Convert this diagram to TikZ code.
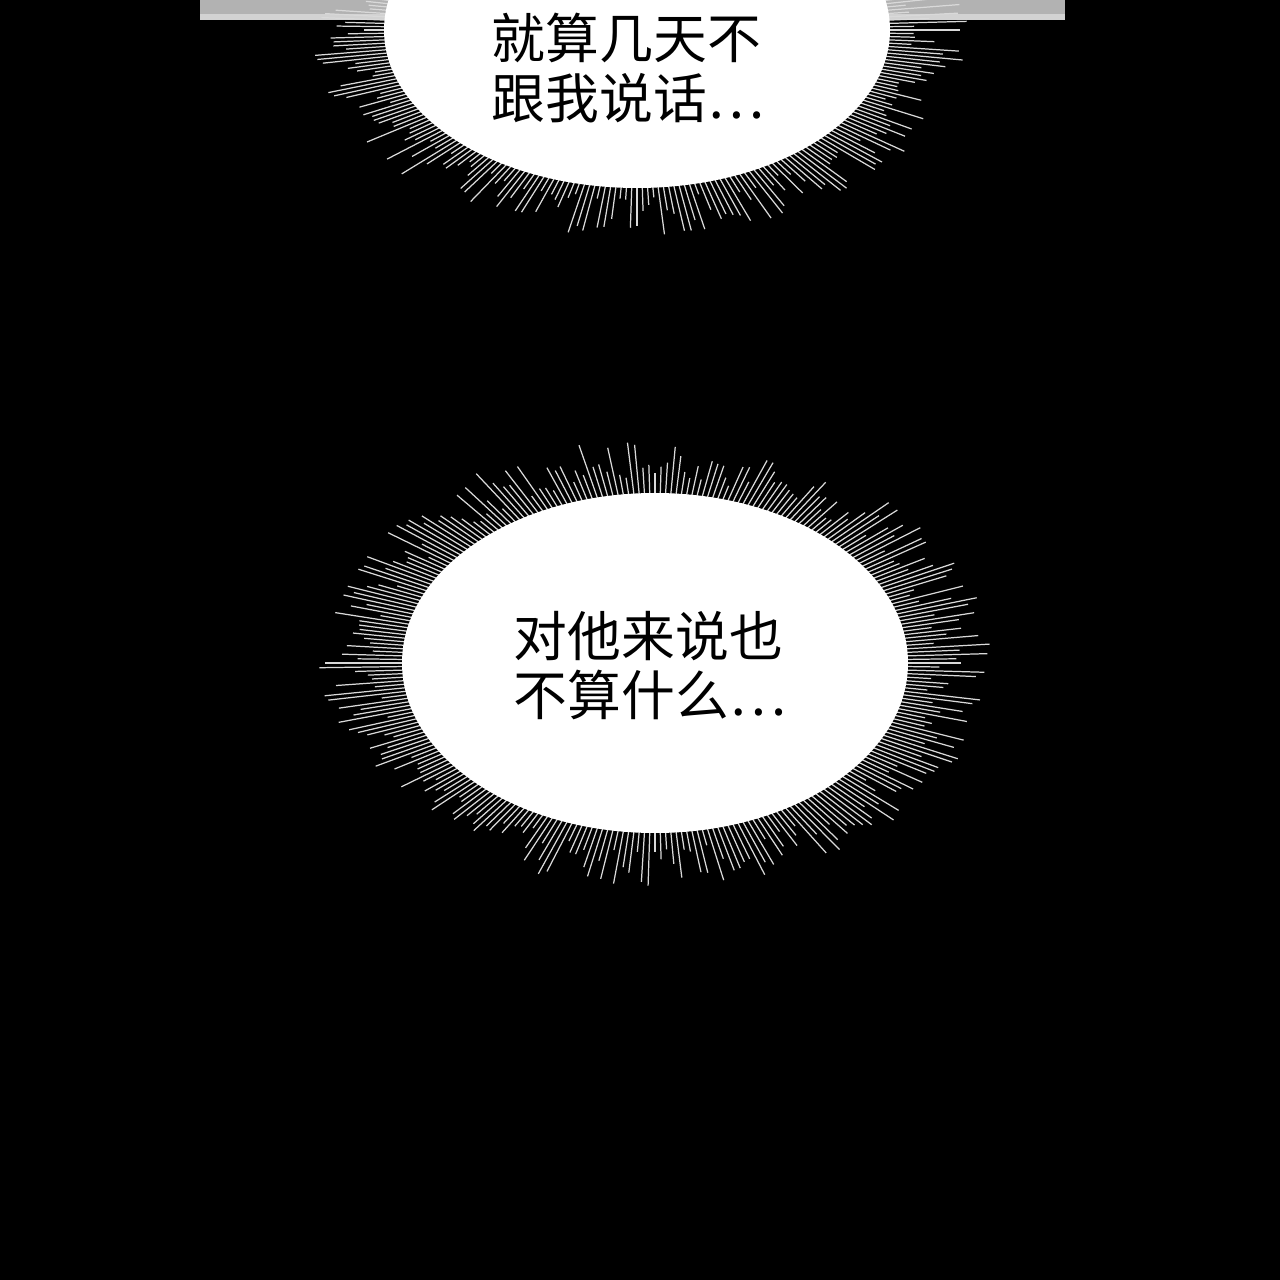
\documentclass[tikz,border=0pt]{standalone}
\usepackage{fontspec}
\newfontfamily\cjk{Noto Sans CJK SC}
\usetikzlibrary{calc,positioning}
\tikzset{
	spike/.style={white!85!black,line width=0.35pt},
	speech/.style={align=left,font=\cjk\fontsize{15.3pt}{16.8pt}\selectfont,text=black}
}
\pgfmathsetseed{7}
\begin{document}
\begin{tikzpicture}[x=0.01cm,y=-0.01cm]

\fill[black] (0,0) rectangle (1280,1280);
\useasboundingbox (0,0) rectangle (1280,1280);
\fill[gray!60] (200,0) rectangle (1065,20);
\fill[gray!35] (200,14) rectangle (1065,20);

% upper bubble
\foreach \a in {0,1.2,...,359}{
	\pgfmathsetmacro{\f}{1.06+0.25*rnd}
	\draw[spike] ($(637,30)+(\a:{253*0.95} and {158*0.95})$) -- ($(637,30)+(\a:{253*\f} and {158*\f})$);
}
\fill[white] (637,30) ellipse (253 and 158);
\node[speech] (upper) at (628,68) {就算几天不\\跟我说话…};

% lower bubble
\foreach \a in {0,1.2,...,359}{
	\pgfmathsetmacro{\f}{1.08+0.25*rnd}
	\draw[spike] ($(655,663)+(\a:{253*0.95} and {170*0.95})$) -- ($(655,663)+(\a:{253*\f} and {170*\f})$);
}
\fill[white] (655,663) ellipse (253 and 170);
\node[speech] (lower) at (650,666) {对他来说也\\不算什么…};

\end{tikzpicture}
\end{document}
